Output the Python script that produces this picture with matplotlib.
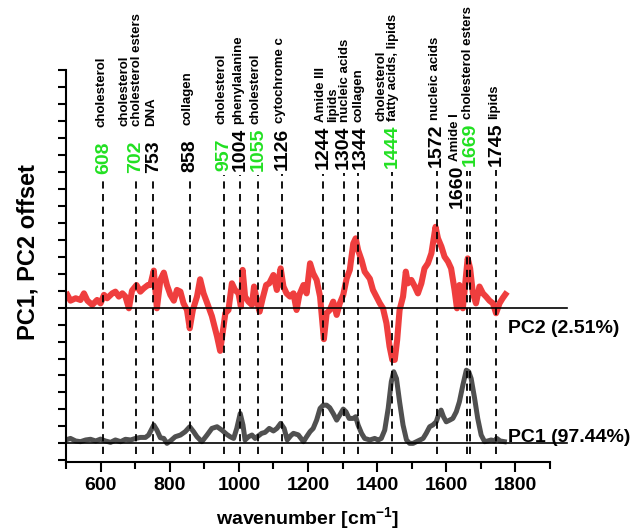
import matplotlib
matplotlib.use('Agg')
import matplotlib.pyplot as plt
from matplotlib.ticker import MultipleLocator

plt.rcParams['font.family'] = ['Liberation Sans', 'DejaVu Sans']
plt.rcParams['font.weight'] = 'bold'
plt.rcParams['mathtext.fontset'] = 'custom'
plt.rcParams['mathtext.rm'] = 'Liberation Sans:bold'
plt.rcParams['mathtext.bf'] = 'Liberation Sans:bold'
plt.rcParams['mathtext.default'] = 'rm'

# PC2 loading (drawn with an offset)
pc2_x = [504, 513, 528, 542, 552, 562, 576, 590, 600, 610, 619, 634, 643, 653, 663,
         672, 682, 691, 704, 715, 725, 737, 744, 754, 763, 773, 783, 792, 802, 812,
         821, 831, 840, 850, 858, 867, 879, 888, 898, 908, 922, 937, 946, 961, 970,
         980, 989, 999, 1006, 1011, 1018, 1028, 1038, 1044, 1052, 1060, 1069, 1079,
         1088, 1100, 1110, 1121, 1129, 1138, 1148, 1158, 1167, 1175, 1187, 1196, 1206,
         1215, 1225, 1235, 1246, 1254, 1263, 1273, 1283, 1292, 1302, 1312, 1321, 1331,
         1338, 1345, 1355, 1364, 1379, 1388, 1398, 1408, 1417, 1427, 1436, 1444, 1451,
         1458, 1465, 1475, 1483, 1489, 1499, 1509, 1518, 1528, 1537, 1547, 1557, 1563,
         1569, 1576, 1586, 1595, 1605, 1614, 1624, 1631, 1638, 1648, 1656, 1662, 1669,
         1677, 1686, 1696, 1706, 1715, 1725, 1735, 1744, 1754, 1763, 1771]
pc2_y = [0.75, 0.41, 0.55, 0.45, 0.84, 0.41, 0.16, 0.45, 0.25, 0.75, 0.55, 0.84, 0.94, 0.65, 0.84,
         0.65, -0.04, 1.00, 1.33, 0.94, 1.14, 1.33, 1.33, 2.18, -0.04, 1.63, 2.06, 1.33, 0.75, 0.41,
         1.04, 0.94, 0.25, -0.14, -1.22, -0.14, 0.65, 1.67, 0.84, 0.29, -0.50, -1.70, -2.55, -0.33, -0.14,
         1.43, 1.04, 0.84, 0.06, 2.22, 0.65, 0.35, 0.16, 1.24, 0.45, -0.24, 0.55, 1.33,
         1.43, 1.92, 1.04, 2.31, 1.24, 0.84, 0.65, 0.84, -0.14, 0.75, 1.33, 0.84, 2.61,
         2.02, 1.63, 0.65, -1.86, -0.33, -0.14, 0.35, -0.43, 0.25, 0.75, 1.73, 2.22, 3.78,
         4.08, 3.39, 2.80, 2.12, 1.70, 1.04, 0.65, 0.25, -0.04, -0.92, -2.29, -3.08, -3.08,
         -1.90, -0.14, 0.65, 2.12, 1.43, 1.63, 1.24, 0.84, 1.43, 2.31, 2.61, 3.20, 3.98,
         4.76, 4.08, 3.59, 3.00, 2.71, 2.31, 1.04, -0.04, 1.33, -0.04, 1.63, 2.90, 2.31,
         0.84, 0.25, 1.24, 0.84, 0.65, 0.41, 0.25, -0.33, 0.25, 0.55, 0.78]

# PC1 loading
pc1_x = [499, 513, 528, 542, 557, 571, 586, 600, 614, 629, 643, 658, 672, 687, 701,
         715, 730, 739, 754, 763, 773, 783, 792, 802, 816, 831, 845, 858, 869, 879,
         893, 908, 922, 937, 951, 965, 975, 985, 994, 1004, 1012, 1018, 1028, 1038, 1047,
         1057, 1066, 1076, 1088, 1100, 1110, 1121, 1131, 1140, 1150, 1158, 1172, 1187,
         1196, 1206, 1215, 1225, 1235, 1244, 1254, 1263, 1273, 1283, 1292, 1302, 1310,
         1319, 1331, 1338, 1345, 1355, 1364, 1379, 1393, 1403, 1412, 1422, 1432, 1441,
         1448, 1456, 1465, 1475, 1485, 1494, 1504, 1518, 1533, 1542, 1552, 1561, 1571,
         1579, 1585, 1592, 1600, 1610, 1619, 1629, 1638, 1648, 1658, 1665, 1672, 1682,
         1691, 1701, 1711, 1720, 1730, 1739, 1746, 1756, 1768]
pc1_y = [0.20, 0.29, 0.14, 0.10, 0.20, 0.24, 0.14, 0.25, 0.14, 0.06, 0.20, 0.10, 0.24, 0.20, 0.29,
         0.35, 0.35, 0.49, 1.08, 0.78, 0.33, 0.29, 0.00, 0.14, 0.39, 0.49, 0.69, 0.98, 0.69, 0.39,
         0.10, 0.49, 0.88, 0.98, 0.78, 0.53, 0.39, 0.29, 0.88, 1.76, 1.08, 0.20, 0.39, 0.49, 0.29,
         0.45, 0.59, 0.65, 0.88, 0.73, 0.88, 1.18, 0.88, 0.20, 0.45, 0.59, 0.50, 0.10,
         0.39, 0.69, 0.88, 1.37, 2.06, 2.25, 2.25, 2.10, 1.76, 1.37, 1.67, 2.02, 1.86,
         1.47, 1.47, 1.57, 1.08, 0.59, 0.29, 0.20, 0.29, 0.20, 0.29, 0.78, 2.06, 3.63,
         4.22, 3.82, 2.45, 1.08, 0.20, 0.00, 0.00, 0.14, 0.29, 0.59, 0.98, 1.08, 1.27,
         1.76, 1.96, 1.57, 1.27, 1.37, 1.47, 1.86, 2.45, 3.43, 4.31, 4.22, 3.82, 2.65,
         1.47, 0.49, 0.10, 0.14, 0.20, 0.14, 0.29, 0.14, 0.10]

pc2_offset = 8
pc1_name = 'PC1 (97.44%)'
pc2_name = 'PC2 (2.51%)'

# band assignments
band_pos = [608, 702, 753, 858, 957, 1004, 1055, 1126, 1244, 1304, 1344, 1444,
            1572, 1660, 1669, 1745]
band_txt = ['cholesterol', 'cholesterol\ncholesterol esters', 'DNA', 'collagen',
            'cholesterol', 'phenylalanine', 'cholesterol', 'cytochrome c', 'Amide III',
            'lipids\nnucleic acids', 'collagen', 'cholesterol\nfatty acids, lipids',
            'nucleic acids', 'Amide I', 'cholesterol esters', 'lipids']
chol_bands = [608, 702, 957, 1055, 1444, 1669]

fig = plt.figure(figsize=(6.35, 5.31), dpi=100)
ax = fig.add_axes([0.1039, 0.1299, 0.7622, 0.7382])

ax.plot(pc2_x, [v + pc2_offset for v in pc2_y], color='#ef3e3e', lw=4.4, zorder=2,
        solid_joinstyle='round')
ax.plot(pc1_x, pc1_y, color='#505050', lw=3.6, zorder=2, solid_joinstyle='round')

ax.axhline(pc2_offset, xmin=0, xmax=1.035, color='black', lw=1.2, clip_on=False, zorder=3)
ax.axhline(0, xmin=0, xmax=1.035, color='black', lw=1.2, clip_on=False, zorder=3)

ax.text(1778, pc2_offset - 1.25, pc2_name, fontsize=14, weight='bold', va='center', ha='left')
ax.text(1778, 0.35, pc1_name, fontsize=14, weight='bold', va='center', ha='left')

# hand nudges (pixels) for crowded labels
num_nudge = {1304: (-1, 0), 1344: (2, 0), 1660: (-10, -42)}
txt_nudge = {1344: (3, 0), 1660: (-10, -42)}

px = 72 / 100.0
for w, t in zip(band_pos, band_txt):
    yb = 15.9 + 0.45 * (w - 608) / 1137.0
    ax.plot([w, w], [-0.6, yb - 0.25], color='black', lw=1.3,
            linestyle=(0, (4, 3)), zorder=3, clip_on=False)
    col = '#22e022' if w in chol_bands else 'black'
    dx, dy = num_nudge.get(w, (0, 0))
    ax.annotate(str(w), xy=(w, yb), xytext=(dx * px, dy * px), textcoords='offset points',
                rotation=90, rotation_mode='anchor', ha='left', va='center',
                fontsize=14, weight='bold', color=col, annotation_clip=False)
    tx, ty = txt_nudge.get(w, (0, 0))
    tx += -5 if '\n' in t else -2
    ax.annotate(t, xy=(w, yb), xytext=(tx * px, (ty + 47) * px),
                textcoords='offset points', rotation=90, rotation_mode='anchor',
                ha='left', va='center', fontsize=9.5, weight='bold', linespacing=1.0,
                annotation_clip=False)

ax.set_xlim(500, 1900)
ax.set_ylim(-1.1, 22)
ax.xaxis.set_major_locator(MultipleLocator(200))
ax.xaxis.set_minor_locator(MultipleLocator(100))
ax.yaxis.set_major_locator(MultipleLocator(1))
ax.set_yticklabels([])
ax.spines['top'].set_visible(False)
ax.spines['right'].set_visible(False)
ax.spines['left'].set_linewidth(1.5)
ax.spines['bottom'].set_linewidth(1.5)
ax.tick_params(axis='both', which='both', direction='out', width=1.5)
ax.tick_params(axis='x', which='major', length=7, labelsize=14, pad=4)
ax.tick_params(axis='x', which='minor', length=5)
ax.tick_params(axis='y', which='major', length=6)
for lab in ax.get_xticklabels():
    lab.set_fontweight('bold')

ax.set_xlabel('wavenumber [cm$^{-1}$]', fontsize=14, weight='bold')
ax.xaxis.set_label_coords(0.5, -0.11)
ax.set_ylabel('PC1, PC2 offset', fontsize=17, weight='bold')
ax.yaxis.set_label_coords(-0.054, 0.535)

fig.savefig('out.png', dpi=100)
